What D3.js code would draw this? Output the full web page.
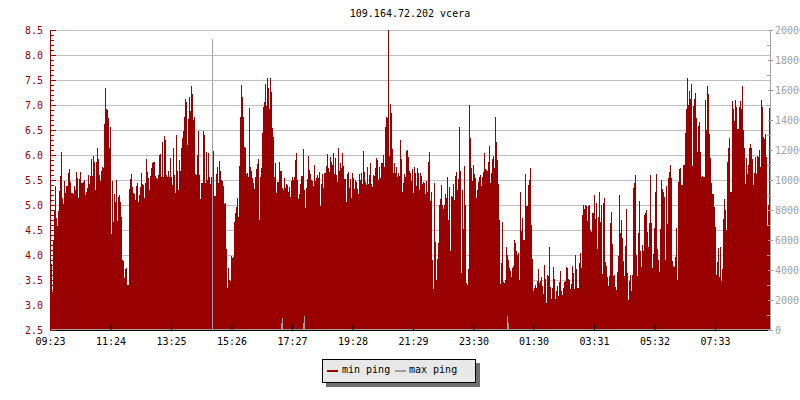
<!DOCTYPE html>
<html>
<head>
<meta charset="utf-8">
<script src="https://cdn.jsdelivr.net/npm/d3@7"></script>
<style>
  body { margin: 0; background: #fff; }
  svg { display: block; }
  text { font-family: "DejaVu Sans Mono", "Liberation Mono", monospace; font-size: 10px; }
</style>
</head>
<body>
<svg id="chart" width="800" height="400"></svg>
<script>
// ---------------- data ----------------
const chartTitle = "109.164.72.202 vcera";
const seriesNames = ["min ping", "max ping"];
const startLabel = "09:23";
const sampleMinutes = 2;
const xTickLabels = ["09:23","11:24","13:25","15:26","17:27","19:28","21:29","23:30","01:30","03:31","05:32","07:33"];
const leftTickValues = [2.5,3.0,3.5,4.0,4.5,5.0,5.5,6.0,6.5,7.0,7.5,8.0,8.5];
const rightTickValues = [0,2000,4000,6000,8000,10000,12000,14000,16000,18000,20000];

// min ping (left axis), one sample every 2 minutes starting 09:23
const minPing = [
3.82,3.82,3.27,4.31,4.91,5.39,4.75,4.59,4.89,5.29,
5.59,6.07,5.15,5.03,5.49,5.25,5.39,5.39,5.65,5.73,
5.46,5.25,5.25,5.23,5.39,5.31,5.67,5.55,5.15,5.53,
5.67,5.45,5.45,5.47,5.51,5.21,5.27,5.35,5.61,5.43,
5.59,5.93,5.59,5.99,5.87,5.31,5.87,6.15,5.92,5.61,
5.49,5.69,5.77,5.75,6.62,7.34,6.93,6.91,6.75,6.15,
6.57,4.43,5.49,4.67,5.23,5.07,5.51,4.69,5.17,5.21,
5.07,4.77,3.91,3.89,3.55,3.73,3.75,3.41,3.41,5.33,
5.53,5.63,5.37,5.25,5.23,5.11,5.39,5.45,5.07,5.21,
5.37,5.65,5.43,5.41,5.15,5.45,5.93,5.67,5.55,5.31,
5.59,5.75,5.85,5.87,5.87,
5.59,5.54,5.52,5.61,6.00,6.03,5.56,6.26,5.57,6.39,
6.31,5.61,5.57,5.69,5.57,5.95,5.56,5.41,6.14,5.61,
5.24,6.41,5.69,5.31,5.91,5.69,6.15,6.34,6.49,6.77,
7.12,7.07,6.21,6.73,7.16,6.89,7.39,7.23,6.71,6.77,
5.63,5.61,6.00,6.49,5.61,5.13,5.45,5.45,6.49,6.41,
5.45,6.07,5.51,6.05,5.57,5.43,5.57,5.41,6.09,5.19,
5.19,5.63,5.77,5.44,5.88,5.69,5.51,5.49,5.39,5.03,
5.04,4.12,3.34,3.74,3.51,3.49,3.98,3.95,3.96,4.67,
4.84,4.97,5.14,4.77,5.79,6.77,7.41,7.17,6.76,6.17,
6.14,5.63,5.65,5.56,6.94,5.77,5.69,5.54,5.44,5.32,
5.56,5.72,5.83,5.92,4.71,5.56,5.75,6.44,6.97,7.07,
7.43,6.99,7.55,7.34,6.93,7.54,7.27,6.54,6.36,5.57,
5.85,5.24,5.46,5.47,5.87,5.69,5.69,5.34,5.31,5.55,
5.35,5.42,5.40,5.27,5.37,5.17,5.49,5.57,5.51,5.57,
5.91,6.05,5.51,5.13,5.22,
5.43,5.59,5.59,6.12,5.31,4.95,5.34,5.52,5.99,5.71,
5.62,5.51,5.49,5.39,5.81,5.49,5.54,5.61,5.54,5.66,
4.99,5.43,5.62,5.35,5.64,5.65,5.79,6.02,5.75,5.67,
5.97,5.87,5.80,6.05,5.63,5.95,5.61,5.47,6.15,5.69,
5.84,5.75,6.05,5.79,5.53,5.53,5.07,5.63,5.67,5.35,
5.52,5.15,5.64,5.55,5.33,5.50,5.47,5.32,5.23,5.63,
5.50,5.65,5.43,6.09,5.67,5.47,5.41,5.77,5.43,5.61,
5.85,5.43,5.37,5.61,5.58,5.74,5.95,5.91,5.51,5.77,
5.55,5.85,5.85,6.01,5.77,6.57,6.77,6.75,8.50,5.99,
7.03,6.85,6.13,5.64,5.84,5.64,5.77,5.57,5.65,5.59,
6.31,5.93,5.27,5.45,5.63,5.57,6.09,6.11,5.97,5.69,
5.65,5.49,5.73,5.25,5.77,5.65,5.39,5.75,5.65,5.31,
5.64,5.59,5.43,5.46,5.45,5.23,5.49,5.27,5.87,6.07,
5.09,5.27,3.91,3.33,5.45,
4.27,3.51,3.93,4.25,5.01,5.13,5.41,5.01,4.93,5.01,
5.23,5.14,5.57,4.71,5.37,4.09,5.19,5.17,5.43,5.11,
5.59,5.67,5.31,5.53,6.57,5.69,3.65,5.31,4.53,5.79,
5.01,3.45,3.41,3.73,7.01,6.35,5.75,5.49,5.81,5.63,
5.55,5.15,5.31,5.47,5.57,5.61,5.39,5.57,5.66,6.05,
5.73,5.71,5.69,5.87,6.19,5.45,5.65,5.93,5.99,5.75,
6.77,6.27,5.91,5.43,4.71,3.43,3.85,4.67,3.47,3.45,
3.51,4.17,4.01,3.91,3.75,3.69,3.57,3.75,3.79,4.31,
4.24,4.09,4.01,4.04,3.51,5.27,4.49,4.74,4.31,4.31,
5.63,4.99,4.99,5.41,5.51,5.75,4.61,3.93,3.29,3.35,
3.41,3.35,3.49,3.73,3.45,3.49,3.57,3.39,3.23,3.81,
3.52,3.05,3.60,3.59,4.16,3.37,3.13,3.35,3.77,3.52,
3.13,3.29,3.39,3.19,3.47,3.69,3.29,3.21,3.35,3.47,
3.49,3.77,3.75,3.53,3.51,
3.32,3.43,3.79,3.65,3.33,4.01,3.73,3.35,3.35,3.85,
4.04,3.75,4.81,5.01,4.93,5.01,4.99,4.69,4.99,5.01,
4.51,4.47,4.85,4.85,5.21,4.73,5.04,4.13,4.77,5.27,
4.67,5.01,3.63,5.05,5.15,3.87,3.79,3.57,3.39,3.59,
4.65,4.87,4.23,3.59,3.61,3.37,3.31,3.67,3.99,5.21,
4.45,4.71,4.35,3.89,3.59,4.19,4.93,3.65,3.11,3.49,
3.61,3.29,3.61,5.35,5.45,5.61,4.01,3.59,4.45,5.09,
4.09,3.77,4.21,4.09,4.81,4.85,4.91,4.47,4.17,4.65,
5.61,4.65,3.75,4.03,4.55,5.27,5.63,4.13,3.91,3.67,
4.53,5.51,5.33,5.27,5.17,3.91,5.39,4.63,5.55,5.67,
5.81,5.55,3.89,3.79,3.77,3.97,4.55,3.51,5.47,5.73,
5.75,5.41,5.41,5.81,5.81,6.44,6.93,7.55,7.01,7.29,
7.13,7.43,5.79,6.99,7.13,7.25,6.75,6.07,6.59,6.67,
6.07,5.57,5.59,5.57,5.57,
7.11,6.51,7.39,7.23,6.43,5.95,5.45,5.23,5.22,4.97,
4.57,3.61,3.86,4.15,3.57,4.17,3.49,3.73,4.73,5.13,
4.91,4.51,5.87,6.15,6.34,5.27,5.27,7.09,6.92,6.69,
7.10,6.97,6.52,6.53,6.96,7.09,6.93,7.39,6.51,6.15,
5.42,5.94,5.62,5.81,6.15,6.22,6.14,5.93,5.41,5.64,
5.97,5.63,5.98,5.96,6.10,5.77,7.11,6.97,6.36,6.33,
6.42,5.96,4.61,5.01,6.94
];

// max ping (right axis): only the samples that rise visibly above the floor
const maxPingIndex = [162, 231, 232, 253, 254, 457, 458];
const maxPingValue = [19400, 470, 820, 490, 950, 950, 490];

// ---------------- layout / style ----------------
const M = { left: 50, right: 770, top: 30, bottom: 330 };
const RED = "#990000", GRID = "#c0c0c0", GRAY = "#a0a0a0";

const svg = d3.select("#chart");

const parseHM = d3.timeParse("%H:%M");
const base = parseHM(startLabel);
const t0 = new Date(2000, 0, 1, base.getHours(), base.getMinutes());
const t1 = d3.timeDay.offset(t0, 1);
const toDate = lbl => {
  const p = parseHM(lbl);
  let d = new Date(2000, 0, 1, p.getHours(), p.getMinutes());
  if (d < t0) d = d3.timeDay.offset(d, 1);
  return d;
};
const sampleTime = i => d3.timeMinute.offset(t0, i * sampleMinutes);

const x = d3.scaleTime().domain([t0, t1]).range([M.left, M.right]);
const yL = d3.scaleLinear().domain([2.5, 8.5]).range([M.bottom, M.top]);
const yR = d3.scaleLinear().domain([0, 20000]).range([M.bottom, M.top]);

// title
svg.append("text").attr("x", (M.left + M.right) / 2).attr("y", 17)
  .attr("text-anchor", "middle").attr("fill", "#000").text(chartTitle);

// gridlines
svg.append("g").selectAll("line").data(leftTickValues.slice(1)).join("line")
  .attr("x1", M.left).attr("x2", M.right)
  .attr("y1", d => Math.round(yL(d)) + 0.5).attr("y2", d => Math.round(yL(d)) + 0.5)
  .attr("stroke", GRID).attr("stroke-width", 1);

// min ping bars
svg.append("g").attr("shape-rendering", "crispEdges")
  .selectAll("rect").data(minPing).join("rect")
  .attr("x", (d, i) => x(sampleTime(i)))
  .attr("width", (d, i) => x(sampleTime(i + 1)) - x(sampleTime(i)))
  .attr("y", d => yL(d))
  .attr("height", d => yL(2.5) - yL(d))
  .attr("fill", RED);

// max ping bars
const maxData = maxPingIndex.map((idx, k) => ({ idx, v: maxPingValue[k] }));
svg.append("g").attr("shape-rendering", "crispEdges")
  .selectAll("rect").data(maxData).join("rect")
  .attr("x", d => x(sampleTime(d.idx)))
  .attr("width", d => x(sampleTime(d.idx + 1)) - x(sampleTime(d.idx)))
  .attr("y", d => yR(d.v))
  .attr("height", d => yR(0) - yR(d.v))
  .attr("fill", GRAY);
// max ping floor row
svg.append("rect").attr("x", M.left).attr("y", M.bottom - 1)
  .attr("width", M.right - M.left).attr("height", 1)
  .attr("fill", GRAY).attr("shape-rendering", "crispEdges");

// bottom axis
const gx = svg.append("g").attr("transform", `translate(0,${M.bottom})`)
  .call(d3.axisBottom(x).tickValues(xTickLabels.map(toDate))
    .tickFormat(d3.timeFormat("%H:%M")).tickSizeInner(-5).tickSizeOuter(0).tickPadding(8));
gx.select(".domain").attr("stroke", "#000");
gx.selectAll(".tick line").attr("stroke", "#000");
gx.selectAll("text").attr("fill", "#000").attr("font-family", null).attr("font-size", null);

// left axis (major + minor)
const minorL = d3.range(25, 86).map(v => v / 10).filter(v => Math.round(v * 10) % 5 !== 0);
const gLm = svg.append("g").attr("transform", `translate(${M.left},0)`)
  .call(d3.axisLeft(yL).tickValues(minorL).tickSize(-4).tickFormat(""));
gLm.select(".domain").remove();
gLm.selectAll(".tick line").attr("stroke", RED);
const gL = svg.append("g").attr("transform", `translate(${M.left},0)`)
  .call(d3.axisLeft(yL).tickValues(leftTickValues).tickFormat(d3.format(".1f"))
    .tickSizeInner(-6).tickSizeOuter(0).tickPadding(7));
gL.select(".domain").attr("stroke", RED);
gL.selectAll(".tick line").attr("stroke", RED);
gL.selectAll("text").attr("fill", RED).attr("font-family", null).attr("font-size", null);

// right axis (major + minor)
const minorR = d3.range(1000, 20000, 2000);
const gRm = svg.append("g").attr("transform", `translate(${M.right},0)`)
  .call(d3.axisRight(yR).tickValues(minorR).tickSize(-3).tickFormat(""));
gRm.select(".domain").remove();
gRm.selectAll(".tick line").attr("stroke", GRAY);
const gR = svg.append("g").attr("transform", `translate(${M.right},0)`)
  .call(d3.axisRight(yR).tickValues(rightTickValues).tickFormat(d3.format("d"))
    .tickSizeInner(3).tickSizeOuter(0).tickPadding(2));
gR.select(".domain").attr("stroke", GRAY);
gR.selectAll(".tick line").attr("stroke", GRAY).attr("x1", -2);
gR.selectAll("text").attr("fill", GRAY).attr("font-family", null).attr("font-size", null);

// legend
const lg = svg.append("g");
lg.append("rect").attr("x", 326).attr("y", 363).attr("width", 154).attr("height", 24)
  .attr("fill", "#707070");
lg.append("rect").attr("x", 322.5).attr("y", 359.5).attr("width", 153).attr("height", 23)
  .attr("fill", "#e8e8e8").attr("stroke", "#000");
const legendItems = [
  { name: seriesNames[0], color: RED, lx: 327, tx: 342 },
  { name: seriesNames[1], color: GRAY, lx: 395, tx: 409 }
];
legendItems.forEach(it => {
  lg.append("line").attr("x1", it.lx).attr("x2", it.lx + 11).attr("y1", 371).attr("y2", 371)
    .attr("stroke", it.color).attr("stroke-width", 2);
  lg.append("text").attr("x", it.tx).attr("y", 373).attr("fill", "#000").text(it.name);
});
</script>
</body>
</html>
